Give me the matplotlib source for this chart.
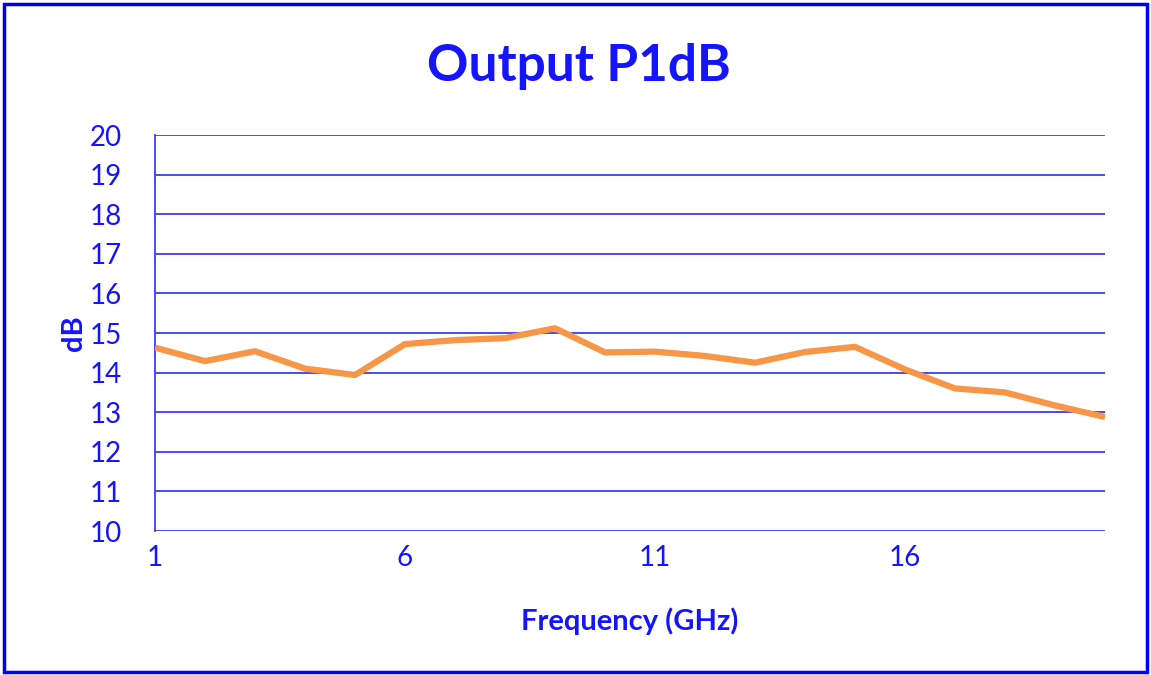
import matplotlib
matplotlib.use("Agg")
import matplotlib.pyplot as plt
from matplotlib.patches import Rectangle

# data
freq_ghz = list(range(1, 21))
p1db = [14.63, 14.29, 14.54, 14.10, 13.94, 14.72, 14.82, 14.87, 15.12, 14.51,
        14.53, 14.42, 14.25, 14.52, 14.65, 14.08, 13.60, 13.50, 13.17, 12.88]
xticks = [1, 6, 11, 16]
yticks = list(range(10, 21))

BLUE = "#1414ff"
GRID = "#3c3cf0"
ORANGE = "#F79646"

plt.rcParams["font.family"] = ["Lato", "DejaVu Sans"]

fig = plt.figure(figsize=(11.51, 6.75), dpi=100)
ax = fig.add_axes([155 / 1151, 1 - 531 / 675, 950 / 1151, 396 / 675])

ax.plot(freq_ghz, p1db, color=ORANGE, lw=4.5, solid_capstyle="butt", zorder=3)

ax.set_xlim(1, 20)
ax.set_ylim(10, 20)
ax.set_xticks(xticks)
ax.set_yticks(yticks)
ax.yaxis.grid(True, color=GRID, lw=1.3)
ax.set_axisbelow(True)
for s in ("top", "right", "bottom"):
    ax.spines[s].set_visible(False)
ax.spines["left"].set_color(GRID)
ax.spines["left"].set_linewidth(1.3)
ax.tick_params(length=0, labelsize=20, labelcolor=BLUE)
ax.tick_params(axis="y", pad=24)
ax.tick_params(axis="x", pad=10)

ax.set_xlabel("Frequency (GHz)", color=BLUE, fontsize=21, fontweight="bold", labelpad=26)
ax.set_ylabel("dB", color=BLUE, fontsize=21, fontweight="bold", labelpad=2)
fig.text(0.503, 1 - 66 / 675, "Output P1dB", color=BLUE,
         fontsize=37, fontweight="bold", ha="center", va="center")

# outer blue frame
fig.patches.append(Rectangle((4 / 1151, 3 / 675), 1143 / 1151, 668 / 675,
                             transform=fig.transFigure, fill=False,
                             edgecolor="#0000ee", lw=2.5))

fig.savefig("out.png", dpi=100)
